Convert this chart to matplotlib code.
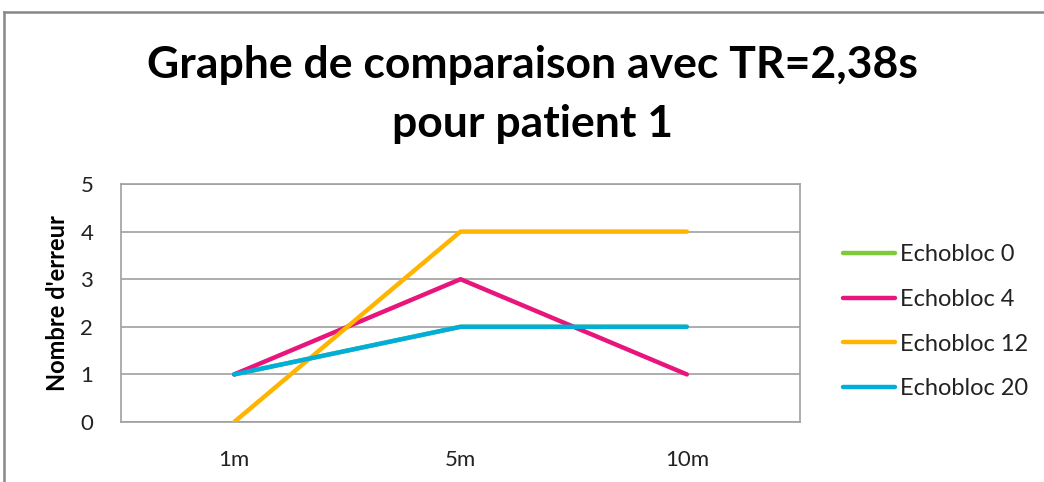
import matplotlib
matplotlib.use("Agg")
import matplotlib.pyplot as plt
from matplotlib.lines import Line2D

categories = ["1m", "5m", "10m"]
series_names = ["Echobloc 0", "Echobloc 4", "Echobloc 12", "Echobloc 20"]
echobloc0 = [1, 2, 2]
echobloc4 = [1, 3, 1]
echobloc12 = [0, 4, 4]
echobloc20 = [1, 2, 2]
yticks = [0, 1, 2, 3, 4, 5]
colors = ["#7DCB3B", "#E8157C", "#FFB400", "#00AEDC"]

plt.rcParams['font.family'] = ['Lato', 'DejaVu Sans']

fig = plt.figure(figsize=(10.44, 4.82), dpi=100)
ax = fig.add_axes([121/1044, 1-422/482, 679/1044, 238/482])

x = list(range(len(categories)))
for name, vals, c in zip(series_names, [echobloc0, echobloc4, echobloc12, echobloc20], colors):
    ax.plot(x, vals, color=c, lw=3.2, solid_capstyle='round', label=name, zorder=3)

ax.set_xlim(-0.5, len(categories) - 0.5)
ax.set_ylim(0, 5)
ax.set_yticks(yticks)
ax.set_xticks(x)
ax.set_xticklabels(categories)
ax.tick_params(axis='both', length=0, labelsize=16, colors='#222222')
ax.tick_params(axis='x', pad=20)
ax.tick_params(axis='y', pad=20)
ax.grid(axis='y', color='#A0A0A0', lw=1.2, zorder=0)
for s in ax.spines.values():
    s.set_color('#A0A0A0')
    s.set_linewidth(1.2)
ax.set_ylabel("Nombre d'erreur", fontsize=17, fontweight='bold', labelpad=8)

fig.text(532/1044, 1-65/482, "Graphe de comparaison avec TR=2,38s", ha='center', va='center',
         fontsize=32, fontweight='bold')
fig.text(532/1044, 1-124/482, "pour patient 1", ha='center', va='center',
         fontsize=32, fontweight='bold')

handles = [Line2D([0], [0], color=c, lw=3.2, solid_capstyle='round') for c in colors]
leg = fig.legend(handles, series_names, loc='upper left', bbox_to_anchor=(834/1044, 1-235/482),
                 frameon=False, fontsize=17, handlelength=2.2, handletextpad=0.2,
                 labelspacing=1.0, borderaxespad=0)
for t in leg.get_texts():
    t.set_color('#222222')

# chart frame
fig.add_artist(Line2D([4/1044, 4/1044], [0, 1-12/482], transform=fig.transFigure, color='#888888', lw=1.8))
fig.add_artist(Line2D([4/1044, 1], [1-12/482, 1-12/482], transform=fig.transFigure, color='#888888', lw=1.8))

fig.savefig("out.png", dpi=100)
